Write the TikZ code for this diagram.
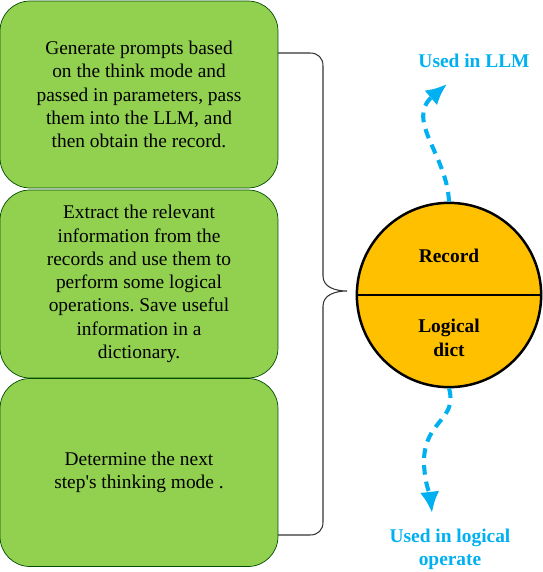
\documentclass[tikz,border=0pt]{standalone}
\usepackage{fontspec}
\setmainfont{Liberation Serif}
\usepackage{tikz}
\usetikzlibrary{arrows.meta}
\definecolor{boxgreen}{HTML}{92D050}
\definecolor{recyellow}{HTML}{FFC000}
\definecolor{usecyan}{HTML}{00B0F0}
\frenchspacing
\tikzset{
  stepbox/.style={draw=black!70!green, fill=boxgreen, rounded corners=17pt,
    minimum width=157.6pt, align=center, font=\rmfamily\fontsize{11}{13.2}\selectfont},
  usage/.style={->, usecyan, line width=2.3pt, dash pattern=on 5.5pt off 4pt},
  uselabel/.style={usecyan, align=center, font=\rmfamily\fontsize{11}{13}\selectfont\bfseries}
}

\begin{document}
\begin{tikzpicture}[>={Latex[length=12pt,width=11pt]}, x=0.567pt, y=-0.567pt]
   \useasboundingbox (0,0) rectangle (542,572);

   \node[stepbox, minimum height=106pt] (gen) at (139,94.5)
     {Generate prompts based\\on the think mode and\\passed in parameters, pass\\them into the LLM, and\\then obtain the record.};
   \node[stepbox, minimum height=106.6pt] (extract) at (139,284)
     {Extract the relevant\\information from the\\records and use them to\\perform some logical\\operations. Save useful\\information in a\\dictionary.};
   \node[stepbox, minimum height=106.6pt] (next) at (139,472.5)
     {Determine the next\\step\textquotesingle s thinking mode .};

   % brace
   \coordinate (bt) at (278,53);
   \coordinate (tip) at (347,291);
   \coordinate (bb) at (278,535);
   \draw[black!80, line width=0.6pt] (bt) -- (310,53) .. controls (318,53) and (323,58) .. (323,66)
     -- (323,276) .. controls (323,287) and (335,291) .. (tip)
     .. controls (335,291) and (323,295) .. (323,306)
     -- (323,522) .. controls (323,530) and (318,535) .. (310,535) -- (bb);

   \node[circle, draw, line width=1.4pt, fill=recyellow, minimum size=104.5pt, inner sep=0pt] (mem) at (449,295) {};
   \draw[line width=1.2pt] (mem.west) -- (mem.east);
   \node[font=\rmfamily\fontsize{11}{13}\selectfont\bfseries] (record) at (449,256) {Record};
   \node[font=\rmfamily\fontsize{11}{13.5}\selectfont\bfseries, align=center] (dict) at (449,338) {Logical\\dict};

   \node[uselabel] (llm) at (474,61) {Used in LLM};
   \node[uselabel] (logic) at (450,549) {Used in logical\\operate};

   \draw[usage] (mem.north) .. controls (447,155) and (405,120) .. (447,84);
   \draw[usage] (mem.south) .. controls (458,420) and (425,420) .. (424,460)
     .. controls (424,482) and (430,495) .. (432,513);
\end{tikzpicture}
\end{document}
